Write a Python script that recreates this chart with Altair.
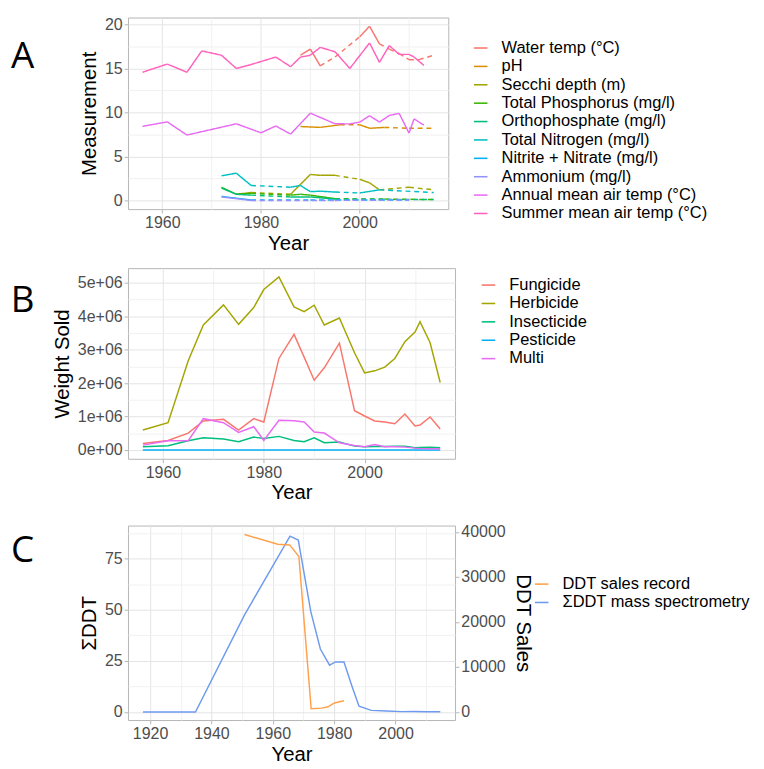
import altair as alt
import pandas as pd

# ---------------- Panel A data ----------------
a_series = ["Water temp (°C)", "pH", "Secchi depth (m)", "Total Phosphorus (mg/l)",
            "Orthophosphate (mg/l)", "Total Nitrogen (mg/l)", "Nitrite + Nitrate (mg/l)",
            "Ammonium (mg/l)", "Annual mean air temp (°C)", "Summer mean air temp (°C)"]
a_colors = ["#F8766D", "#D89000", "#A3A500", "#39B600", "#00BF7D",
            "#00BFC4", "#00B0F6", "#9590FF", "#E76BF3", "#FF62BC"]

water_years = [1988, 1990, 1992, 1995, 2000, 2002, 2004, 2006, 2008, 2010, 2012, 2015]
water_vals = [16.5, 17.2, 15.3, 16.3, 18.6, 19.8, 17.8, 17.2, 16.7, 16.0, 16.0, 16.5]
water_dash = [0, 0, 1, 1, 0, 0, 1, 1, 1, 1, 1]

ph_years = [1988, 1992, 1996, 2000, 2002, 2005, 2010, 2015]
ph_vals = [8.4, 8.3, 8.6, 8.6, 8.2, 8.3, 8.2, 8.2]
ph_dash = [0, 0, 1, 0, 0, 1, 1]

secchi_years = [1975, 1978, 1986, 1990, 1992, 1995, 2000, 2002, 2004, 2010, 2015]
secchi_vals = [0.7, 0.9, 0.7, 2.95, 2.85, 2.85, 2.4, 2.0, 1.2, 1.5, 1.2]
secchi_dash = [0, 1, 0, 0, 0, 1, 0, 0, 1, 1]

tp_years = [1972, 1975, 1978, 1986, 1988, 1990, 1995, 2005, 2015]
tp_vals = [1.5, 0.7, 0.8, 0.6, 0.7, 0.6, 0.2, 0.15, 0.1]
tp_dash = [0, 0, 1, 0, 0, 0, 1, 1]

ortho_years = [1972, 1975, 1978, 1986, 1990, 1995, 2015]
ortho_vals = [1.4, 0.7, 0.6, 0.4, 0.4, 0.15, 0.1]
ortho_dash = [0, 0, 1, 0, 0, 1]

tn_years = [1972, 1975, 1978, 1986, 1988, 1990, 1992, 1995, 2000, 2004, 2015]
tn_vals = [2.8, 3.1, 1.7, 1.5, 1.7, 1.0, 1.05, 0.95, 0.85, 1.2, 0.9]
tn_dash = [0, 0, 1, 0, 0, 0, 0, 1, 0, 1]

nn_years = [1972, 1978, 1990, 2010]
nn_vals = [0.45, 0.05, 0.05, 0.05]
nn_dash = [0, 1, 1]

amm_years = [1972, 1978, 1995, 2010]
amm_vals = [0.4, 0.0, 0.0, 0.05]
amm_dash = [0, 1, 1]

annual_years = [1956, 1961, 1965, 1975, 1980, 1983, 1986, 1990, 1995, 1998, 2000,
                2002, 2004, 2006, 2008, 2010, 2011, 2013]
annual_vals = [8.42, 8.93, 7.43, 8.71, 7.69, 8.46, 7.54, 9.92, 8.71, 8.7, 8.9,
               9.63, 8.9, 9.66, 9.89, 7.65, 9.26, 8.57]
annual_dash = [0] * (len(annual_years) - 1)

summer_years = [1956, 1961, 1965, 1968, 1972, 1975, 1978, 1983, 1986, 1988, 1990,
                1992, 1995, 1998, 2002, 2004, 2006, 2008, 2010, 2011, 2013]
summer_vals = [14.57, 15.5, 14.57, 17.0, 16.5, 15.0, 15.45, 16.3, 15.2, 16.3, 16.5,
               17.4, 16.9, 15.0, 17.9, 15.7, 17.6, 16.6, 16.6, 16.3, 15.35]
summer_dash = [0] * (len(summer_years) - 1)

a_data = [
    (water_years, water_vals, water_dash),
    (ph_years, ph_vals, ph_dash),
    (secchi_years, secchi_vals, secchi_dash),
    (tp_years, tp_vals, tp_dash),
    (ortho_years, ortho_vals, ortho_dash),
    (tn_years, tn_vals, tn_dash),
    (nn_years, nn_vals, nn_dash),
    (amm_years, amm_vals, amm_dash),
    (annual_years, annual_vals, annual_dash),
    (summer_years, summer_vals, summer_dash),
]

# ---------------- Panel B data ----------------
b_series = ["Fungicide", "Herbicide", "Insecticide", "Pesticide", "Multi"]
b_colors = ["#F8766D", "#A3A500", "#00BF7D", "#00B0F6", "#E76BF3"]
b_years = [1956, 1961, 1965, 1968, 1972, 1975, 1978, 1980, 1983, 1986, 1988, 1990,
           1992, 1995, 1998, 2000, 2002, 2004, 2006, 2008, 2010, 2011, 2013, 2015]
fungicide = [0.20e6, 0.29e6, 0.51e6, 0.87e6, 0.92e6, 0.60e6, 0.94e6, 0.84e6, 2.74e6, 3.46e6,
             2.78e6, 2.09e6, 2.46e6, 3.20e6, 1.18e6, 1.02e6, 0.87e6, 0.84e6, 0.79e6, 1.08e6,
             0.72e6, 0.75e6, 0.99e6, 0.63e6]
herbicide = [0.60e6, 0.82e6, 2.67e6, 3.74e6, 4.34e6, 3.76e6, 4.26e6, 4.80e6, 5.18e6, 4.28e6,
             4.14e6, 4.33e6, 3.74e6, 3.95e6, 2.91e6, 2.31e6, 2.37e6, 2.48e6, 2.74e6, 3.24e6,
             3.53e6, 3.84e6, 3.21e6, 2.02e6]
insecticide = [0.10e6, 0.13e6, 0.28e6, 0.37e6, 0.33e6, 0.25e6, 0.39e6, 0.35e6, 0.41e6, 0.29e6,
               0.25e6, 0.37e6, 0.22e6, 0.24e6, 0.12e6, 0.10e6, 0.11e6, 0.11e6, 0.12e6, 0.12e6,
               0.07e6, 0.08e6, 0.09e6, 0.07e6]
pesticide = [5000, 5000, 5000, 5000, 5000, 5000, 5000, 5000, 5000, 5000, 5000, 5000,
             5000, 5000, 5000, 5000, 5000, 5000, 5000, 5000, 5000, 5000, 5000, 5000]
multi = [0.15e6, 0.28e6, 0.28e6, 0.94e6, 0.82e6, 0.53e6, 0.70e6, 0.29e6, 0.89e6, 0.88e6,
         0.84e6, 0.54e6, 0.51e6, 0.22e6, 0.14e6, 0.10e6, 0.17e6, 0.10e6, 0.10e6, 0.09e6,
         0.06e6, 0.05e6, 0.04e6, 0.04e6]

# ---------------- Panel C data ----------------
c_series = ["DDT sales record", "ΣDDT mass spectrometry"]
c_colors = ["#FFA04A", "#6E9BEF"]
sales_years = [1950.8, 1961.6, 1965.5, 1968.5, 1972.5, 1975.9, 1978.0, 1980.1, 1983.2]
sales_vals = [39440, 37290, 37140, 34560, 730, 860, 1160, 2020, 2520]
ms_years = [1917.7, 1934.8, 1950.7, 1965.6, 1968.3, 1972.4, 1975.5, 1978.5, 1980.4,
            1983.2, 1985.8, 1988.1, 1992.1, 1997.0, 2002.0, 2006.0, 2010.0, 2014.6]
ms_vals = [0.0, 0.0, 47.3, 86.0, 84.1, 49.0, 30.8, 22.9, 24.5,
           24.5, 12.6, 2.8, 0.8, 0.5, 0.2, 0.3, 0.1, 0.1]

panel_labels = ["A", "B", "C"]

# ---------------- helpers ----------------
FONT = "Liberation Sans"
MAJ_GRID = "#E3E3E3"
MIN_GRID = "#F1F1F1"


def cond_axis(title, values, test, label_expr=None, **kw):
    args = dict(
        title=title, values=values, grid=True,
        labelExpr=label_expr if label_expr else f"({test}) ? datum.label : ''",
        tickOpacity={"condition": {"test": test, "value": 1}, "value": 0},
        gridColor={"condition": {"test": test, "value": MAJ_GRID}, "value": MIN_GRID},
        labelOverlap=False, labelFlush=False,
    )
    args.update(kw)
    return alt.Axis(**args)


def label_layer(idx, y):
    df = pd.DataFrame({"lab": [panel_labels[idx]]})
    return alt.Chart(df).mark_text(
        font="Open Sans", fontSize=38, fontWeight=500, align="center",
        baseline="alphabetic", color="black"
    ).encode(x=alt.value(-109), y=alt.value(y), text="lab:N")


def legend(x, y):
    return alt.Legend(title=None, orient="none", legendX=x, legendY=y, padding=0,
                      symbolType="stroke", symbolSize=196, symbolStrokeWidth=1.6,
                      labelFontSize=17, labelFont=FONT, labelColor="black",
                      labelLimit=400, labelOffset=13, rowPadding=1)


# ---------------- Panel A ----------------
rows = []
for name, (yrs, vals, dash) in zip(a_series, a_data):
    for i in range(len(yrs) - 1):
        seg = f"{name}|{i}"
        lt = "dashed" if dash[i] else "solid"
        rows.append({"series": name, "seg": seg, "lt": lt, "Year": yrs[i], "v": vals[i]})
        rows.append({"series": name, "seg": seg, "lt": lt, "Year": yrs[i + 1], "v": vals[i + 1]})
dfa = pd.DataFrame(rows)

xa = alt.Scale(domain=[1953.05, 2017.95], nice=False, zero=False)
lines_a = alt.Chart(dfa).mark_line(strokeWidth=1.5).encode(
    x=alt.X("Year:Q", scale=xa,
            axis=cond_axis("Year", [1960, 1970, 1980, 1990, 2000, 2010], "datum.value % 20 == 0", format="d")),
    y=alt.Y("v:Q", scale=alt.Scale(domain=[-0.99, 20.79], nice=False, zero=False),
            axis=cond_axis("Measurement", [0, 2.5, 5, 7.5, 10, 12.5, 15, 17.5, 20], "datum.value % 5 == 0")),
    color=alt.Color("series:N", scale=alt.Scale(domain=a_series, range=a_colors),
                    sort=a_series, legend=legend(356, 23)),
    strokeDash=alt.StrokeDash("lt:N", scale=alt.Scale(domain=["solid", "dashed"], range=[[1, 0], [5, 4]]),
                              legend=None),
    detail="seg:N",
)
chart_a = alt.layer(lines_a, label_layer(0, 52)).properties(width=331, height=198)

# ---------------- Panel B ----------------
b_vals = [fungicide, herbicide, insecticide, pesticide, multi]
rows = []
for name, vals in zip(b_series, b_vals):
    for y, v in zip(b_years, vals):
        rows.append({"series": name, "Year": y, "w": v})
dfb = pd.DataFrame(rows)

b_test = "datum.value % 1000000 == 0"
b_label = ("datum.value % 1000000 == 0 ? (datum.value == 0 ? '0e+00' : "
           "format(datum.value / 1000000, 'd') + 'e+06') : ''")
lines_b = alt.Chart(dfb).mark_line(strokeWidth=1.5).encode(
    x=alt.X("Year:Q", scale=alt.Scale(domain=[1953.05, 2017.95], nice=False, zero=False),
            axis=cond_axis("Year", [1960, 1970, 1980, 1990, 2000, 2010], "datum.value % 20 == 0", format="d")),
    y=alt.Y("w:Q", scale=alt.Scale(domain=[-0.259e6, 5.439e6], nice=False, zero=False),
            axis=cond_axis("Weight Sold", [i * 500000 for i in range(11)], b_test, label_expr=b_label)),
    color=alt.Color("series:N", scale=alt.Scale(domain=b_series, range=b_colors),
                    sort=b_series, legend=legend(364, 9)),
)
chart_b = alt.layer(lines_b, label_layer(1, 45)).properties(width=338, height=197)

# ---------------- Panel C ----------------
dfs = pd.DataFrame({"Year": sales_years, "val": sales_vals, "series": c_series[0]})
dfm = pd.DataFrame({"Year": ms_years, "val": ms_vals, "series": c_series[1]})
xc = alt.Scale(domain=[1912.8, 2019.4], nice=False, zero=False)
xc_axis = cond_axis("Year", [1920, 1930, 1940, 1950, 1960, 1970, 1980, 1990, 2000, 2010],
                    "datum.value % 20 == 0", format="d")
color_c = alt.Color("series:N", scale=alt.Scale(domain=c_series, range=c_colors),
                    sort=c_series, legend=legend(419, 52))
line_ms = alt.Chart(dfm).mark_line(strokeWidth=1.5).encode(
    x=alt.X("Year:Q", scale=xc, axis=xc_axis),
    y=alt.Y("val:Q", scale=alt.Scale(domain=[-3.93, 91.2], nice=False, zero=False),
            axis=cond_axis("ΣDDT", [0, 12.5, 25, 37.5, 50, 62.5, 75, 87.5], "datum.value % 25 == 0")),
    color=color_c,
)
line_sales = alt.Chart(dfs).mark_line(strokeWidth=1.5).encode(
    x=alt.X("Year:Q", scale=xc, axis=xc_axis),
    y=alt.Y("val:Q", scale=alt.Scale(domain=[-1785, 41440], nice=False, zero=False),
            axis=alt.Axis(title="DDT Sales", orient="right", grid=False, titlePadding=8,
                          values=[0, 10000, 20000, 30000, 40000], format="d")),
    color=color_c,
)
chart_c = alt.layer(line_ms, line_sales, label_layer(2, 38)).resolve_scale(
    y="independent").properties(width=338, height=201)

top = alt.vconcat(chart_a, chart_b, spacing=14).resolve_scale(
    color="independent").resolve_legend(color="independent")
chart = alt.vconcat(top, chart_c, spacing=21).resolve_scale(
    color="independent").resolve_legend(color="independent").properties(
    padding={"left": 2, "top": -5, "right": 5, "bottom": 0}
).configure_view(
    stroke="#B3B3B3", strokeWidth=1
).configure_axis(
    domain=False, tickColor="#B3B3B3", tickSize=4, tickWidth=1,
    labelColor="#4D4D4D", labelFontSize=16.5, labelFont=FONT, labelPadding=2,
    titleFont=FONT, titleFontSize=21, titleFontWeight="normal", titleColor="black",
    titlePadding=5, gridWidth=1
).configure_axisX(
    titlePadding=2
).configure_legend(
    labelFont=FONT
)

chart.save("out.html", embed_options={"renderer": "svg", "actions": False})
